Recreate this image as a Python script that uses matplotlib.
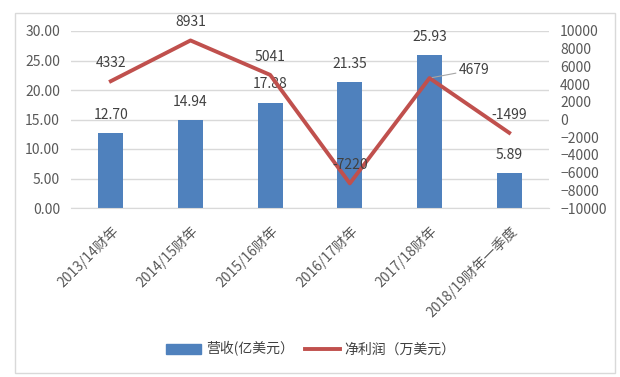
import matplotlib.pyplot as plt
from matplotlib.patches import Rectangle

plt.rcParams['font.family'] = ['Noto Sans CJK SC', 'DejaVu Sans']

# data
categories = ['2013/14财年', '2014/15财年', '2015/16财年', '2016/17财年', '2017/18财年', '2018/19财年一季度']
revenue = [12.70, 14.94, 17.88, 21.35, 25.93, 5.89]      # 亿美元
profit = [4332, 8931, 5041, -7220, 4679, -1499]          # 万美元
left_ticks = [0, 5, 10, 15, 20, 25, 30]
right_ticks = list(range(-10000, 10001, 2000))

bar_color = '#4F81BD'
line_color = '#C0504D'
text_color = '#404040'
tick_color = '#595959'

fig = plt.figure(figsize=(6.2, 3.77), dpi=100)
fig.patches.append(Rectangle((15 / 620, 4 / 377), 600 / 620, 360 / 377, transform=fig.transFigure,
                             fill=False, edgecolor='#D9D9D9', linewidth=1))

ax1 = fig.add_axes([71 / 620, 1 - 208 / 377, 478 / 620, 177 / 377])
x = range(len(categories))
bars = ax1.bar(x, revenue, width=0.31, color=bar_color, zorder=2)
ax1.set_ylim(0, 30)
ax1.set_xlim(-0.5, len(categories) - 0.5)
ax1.set_yticks(left_ticks)
ax1.set_yticklabels([f'{t:.2f}' for t in left_ticks])
ax1.grid(axis='y', color='#D9D9D9', linewidth=1, zorder=0)
ax1.set_axisbelow(True)
for s in ['top', 'left', 'right']:
    ax1.spines[s].set_visible(False)
ax1.spines['bottom'].set_color('#D9D9D9')
ax1.tick_params(axis='y', length=0, labelsize=10, colors=tick_color, pad=8)
ax1.tick_params(axis='x', length=0, labelsize=10, colors=tick_color, pad=11)
ax1.set_xticks(list(x))
ax1.set_xticklabels(categories, rotation=45, ha='right', rotation_mode='anchor')

for i, v in enumerate(revenue):
    ax1.annotate(f'{v:.2f}', (i, v), xytext=(0, 8), textcoords='offset points',
                 ha='center', va='bottom', fontsize=10, color=text_color, zorder=5)

ax2 = ax1.twinx()
ax2.plot(list(x), profit, color=line_color, linewidth=2.8, zorder=3)
ax2.set_ylim(-10000, 10000)
ax2.set_yticks(right_ticks)
for s in ['top', 'left', 'right', 'bottom']:
    ax2.spines[s].set_visible(False)
ax2.tick_params(axis='y', length=0, labelsize=10, colors=tick_color, pad=8)

for i, v in enumerate(profit):
    if i == 4:
        ax2.annotate(str(v), (i, v), xytext=(21, 6), textcoords='offset points',
                     ha='left', va='center', fontsize=10, color=text_color,
                     arrowprops=dict(arrowstyle='-', color='#A6A6A6', lw=0.8,
                                     shrinkA=0, shrinkB=2))
    else:
        ax2.annotate(str(v), (i, v), xytext=(0, 8), textcoords='offset points',
                     ha='center', va='bottom', fontsize=10, color=text_color)

fig.legend([Rectangle((0, 0), 1, 1, color=bar_color),
            plt.Line2D([0], [0], color=line_color, linewidth=2.8)],
           ['营收(亿美元）', '净利润（万美元）'],
           loc='center', bbox_to_anchor=(311 / 620, 1 - 349 / 377), ncol=2, frameon=False,
           fontsize=10, handlelength=2.5, handleheight=0.7, columnspacing=0.8,
           handletextpad=0.35, labelcolor=text_color)

fig.savefig('out.png', dpi=100, facecolor='white')
